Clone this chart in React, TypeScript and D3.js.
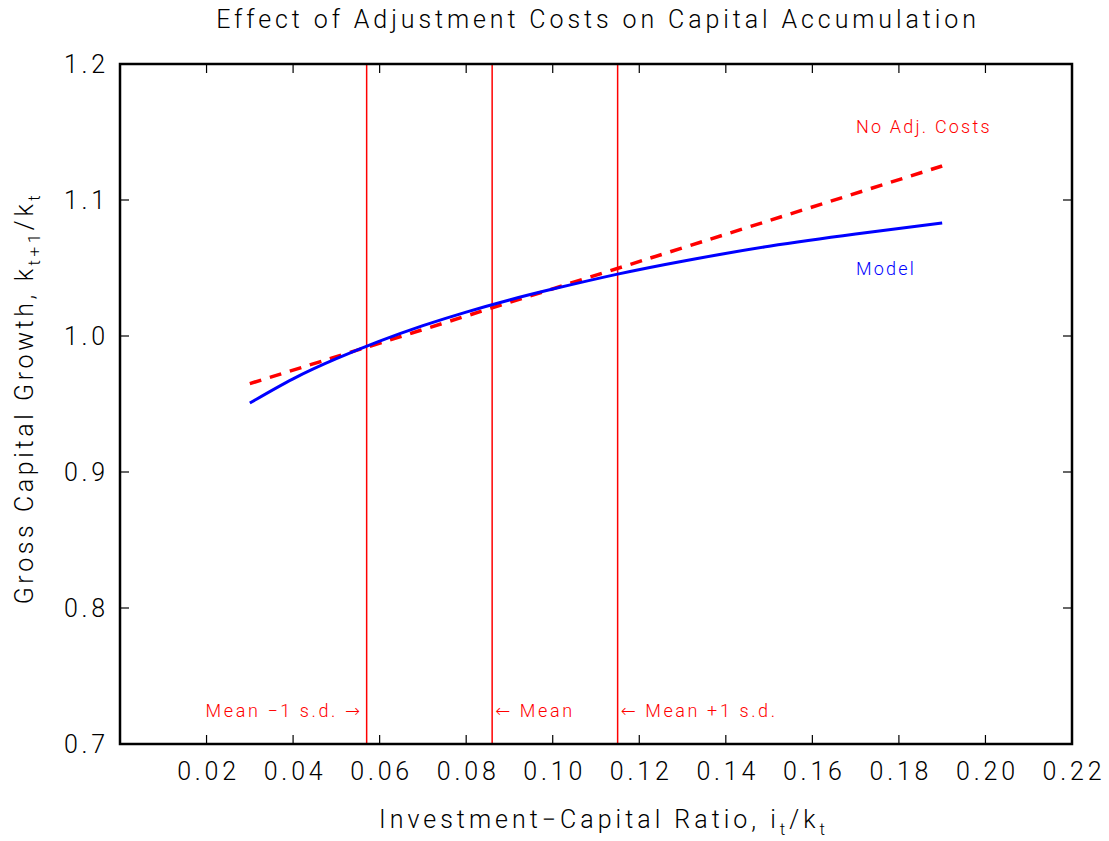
import React from "react";
import * as d3 from "d3";

// tick values
const xTicks = [0.02, 0.04, 0.06, 0.08, 0.1, 0.12, 0.14, 0.16, 0.18, 0.2, 0.22];
const yTicks = [0.7, 0.8, 0.9, 1.0, 1.1, 1.2];

// model: gross capital growth with adjustment costs
const modelX = [0.03, 0.04, 0.05, 0.06, 0.07, 0.08, 0.09, 0.1, 0.115, 0.13, 0.15, 0.17, 0.19];
const modelY = [0.9507, 0.9685, 0.9833, 0.9962, 1.0076, 1.0176, 1.0265, 1.0345, 1.0455, 1.055, 1.066, 1.075, 1.0831];

// no adjustment costs (straight line)
const noAdjX = [0.03, 0.086, 0.19];
const noAdjY = [0.965, 1.0207, 1.125];

// mean and +/- 1 s.d. of investment-capital ratio
const markerValues = [0.057, 0.086, 0.115];
const markerLabels = ["Mean \u22121 s.d. \u2192", "\u2190 Mean", "\u2190 Mean +1 s.d."];
const markerSides = ["left", "right", "right"];

const W = 1109;
const H = 841;
const margin = { top: 64, right: 37, bottom: 97, left: 120 };
const FONT = "Roboto, 'DejaVu Sans', sans-serif";

export default function App() {
  const x = d3.scaleLinear().domain([0, 0.22]).range([margin.left, W - margin.right]);
  const y = d3.scaleLinear().domain([0.7, 1.2]).range([H - margin.bottom, margin.top]);
  const x0 = margin.left;
  const x1 = W - margin.right;
  const y0 = H - margin.bottom;
  const y1 = margin.top;

  const line = d3
    .line<[number, number]>()
    .x((d) => x(d[0]))
    .y((d) => y(d[1]))
    .curve(d3.curveNatural);

  const modelPts = modelX.map((v, i) => [v, modelY[i]] as [number, number]);
  const noAdjPts = noAdjX.map((v, i) => [v, noAdjY[i]] as [number, number]);

  const tickLen = 9;

  return (
    <svg
      width={W}
      height={H}
      style={{ position: "absolute", left: 0, top: 0, background: "#fff" }}
      fontFamily={FONT}
      fontWeight={300}
    >
      <text
        x={(x0 + x1) / 2 + 2}
        y={28}
        textAnchor="middle"
        fontSize={25}
        letterSpacing={3.9}
        fill="#000"
      >
        Effect of Adjustment Costs on Capital Accumulation
      </text>

      {/* reference lines */}
      {markerValues.map((v, i) => (
        <g key={i}>
          <line x1={x(v)} x2={x(v)} y1={y1} y2={y0} stroke="#ff0000" strokeWidth={1.5} />
          <text
            x={markerSides[i] === "left" ? x(v) - 4 : x(v) + 3}
            y={717}
            textAnchor={markerSides[i] === "left" ? "end" : "start"}
            fontSize={18}
            letterSpacing={2.6}
            fill="#ff0000"
          >
            {markerLabels[i]}
          </text>
        </g>
      ))}

      <path
        d={line(noAdjPts) ?? ""}
        fill="none"
        stroke="#ff0000"
        strokeWidth={3.5}
        strokeDasharray="12 9"
      />
      <path d={line(modelPts) ?? ""} fill="none" stroke="#0000ff" strokeWidth={3} />

      <text x={856} y={133} fontSize={18} letterSpacing={2.2} fill="#ff0000">
        No Adj. Costs
      </text>
      <text x={856} y={275} fontSize={18} letterSpacing={2.2} fill="#0000ff">
        Model
      </text>

      {/* frame */}
      <rect x={x0} y={y1} width={x1 - x0} height={y0 - y1} fill="none" stroke="#000" strokeWidth={2.5} />

      {xTicks.map((t) => (
        <g key={t}>
          {t < 0.22 && (
            <>
              <line x1={x(t)} x2={x(t)} y1={y0} y2={y0 - tickLen} stroke="#000" strokeWidth={1.2} />
              <line x1={x(t)} x2={x(t)} y1={y1} y2={y1 + tickLen} stroke="#000" strokeWidth={1.2} />
            </>
          )}
          <text x={x(t) + 2} y={780} textAnchor="middle" fontSize={25} letterSpacing={3.8} fill="#000">
            {t.toFixed(2)}
          </text>
        </g>
      ))}

      {yTicks.map((t) => (
        <g key={t}>
          {t > 0.7 && t < 1.2 && (
            <>
              <line x1={x0} x2={x0 + tickLen} y1={y(t)} y2={y(t)} stroke="#000" strokeWidth={1.2} />
              <line x1={x1} x2={x1 - tickLen} y1={y(t)} y2={y(t)} stroke="#000" strokeWidth={1.2} />
            </>
          )}
          <text x={109} y={y(t) + 9} textAnchor="end" fontSize={25} letterSpacing={3.8} fill="#000">
            {t.toFixed(1)}
          </text>
        </g>
      ))}

      {/* axis titles */}
      <text x={604} y={828} textAnchor="middle" fontSize={25} letterSpacing={4} fill="#000">
        Investment{"\u2212"}Capital Ratio, i
        <tspan fontSize={17} dy={7}>t</tspan>
        <tspan dy={-7}>/k</tspan>
        <tspan fontSize={17} dy={7}>t</tspan>
      </text>

      <text
        transform={`translate(33,${398}) rotate(-90)`}
        textAnchor="middle"
        fontSize={25}
        letterSpacing={3.6}
        fill="#000"
      >
        Gross Capital Growth, k
        <tspan fontSize={17} dy={7}>t+1</tspan>
        <tspan dy={-7}>/k</tspan>
        <tspan fontSize={17} dy={7}>t</tspan>
      </text>
    </svg>
  );
}
